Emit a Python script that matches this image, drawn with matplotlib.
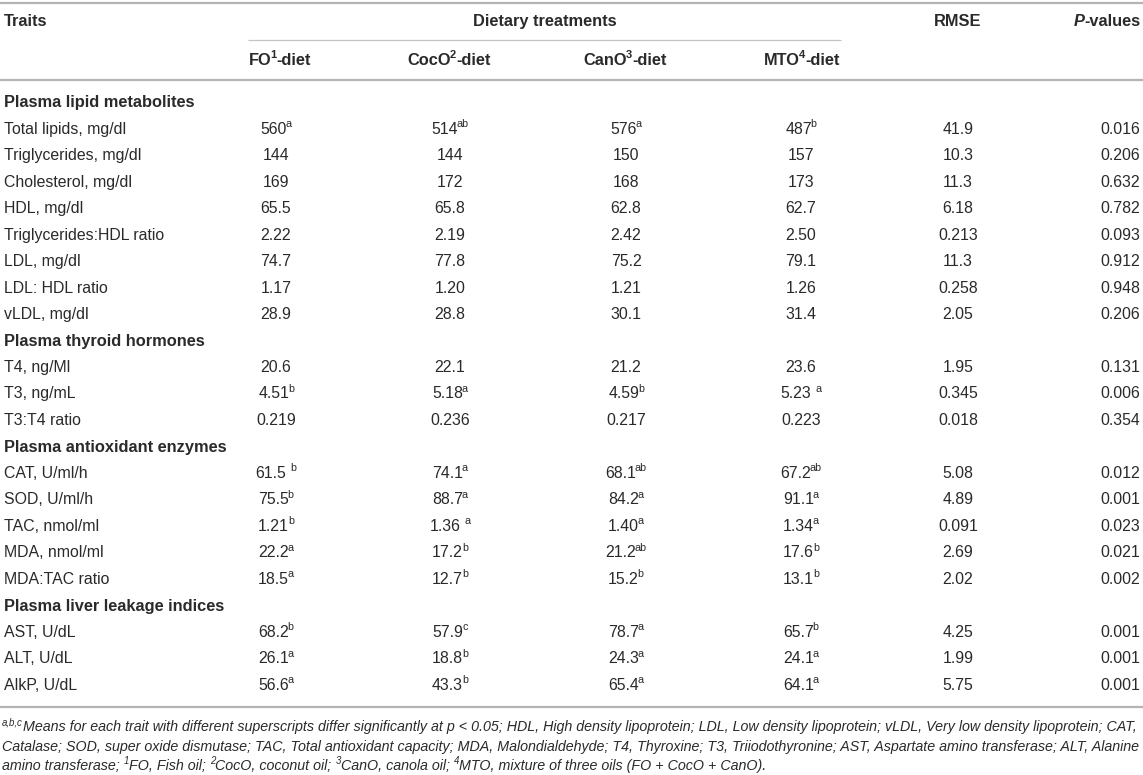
import matplotlib
matplotlib.use("Agg")
import matplotlib.pyplot as plt
from matplotlib.lines import Line2D

# table content
sections = ["Plasma lipid metabolites", "Plasma thyroid hormones",
            "Plasma antioxidant enzymes", "Plasma liver leakage indices"]
section_sizes = [8, 3, 5, 3]
traits = ["Total lipids, mg/dl", "Triglycerides, mg/dl", "Cholesterol, mg/dl", "HDL, mg/dl",
          "Triglycerides:HDL ratio", "LDL, mg/dl", "LDL: HDL ratio", "vLDL, mg/dl",
          "T4, ng/Ml", "T3, ng/mL", "T3:T4 ratio",
          "CAT, U/ml/h", "SOD, U/ml/h", "TAC, nmol/ml", "MDA, nmol/ml", "MDA:TAC ratio",
          "AST, U/dL", "ALT, U/dL", "AlkP, U/dL"]

# "^" marks a superscript
fo_diet = ["560^a", "144", "169", "65.5", "2.22", "74.7", "1.17", "28.9",
           "20.6", "4.51^b", "0.219",
           "61.5 ^b", "75.5^b", "1.21^b", "22.2^a", "18.5^a",
           "68.2^b", "26.1^a", "56.6^a"]
coco_diet = ["514^ab", "144", "172", "65.8", "2.19", "77.8", "1.20", "28.8",
             "22.1", "5.18^a", "0.236",
             "74.1^a", "88.7^a", "1.36 ^a", "17.2^b", "12.7^b",
             "57.9^c", "18.8^b", "43.3^b"]
cano_diet = ["576^a", "150", "168", "62.8", "2.42", "75.2", "1.21", "30.1",
             "21.2", "4.59^b", "0.217",
             "68.1^ab", "84.2^a", "1.40^a", "21.2^ab", "15.2^b",
             "78.7^a", "24.3^a", "65.4^a"]
mto_diet = ["487^b", "157", "173", "62.7", "2.50", "79.1", "1.26", "31.4",
            "23.6", "5.23 ^a", "0.223",
            "67.2^ab", "91.1^a", "1.34^a", "17.6^b", "13.1^b",
            "65.7^b", "24.1^a", "64.1^a"]
rmse = ["41.9", "10.3", "11.3", "6.18", "0.213", "11.3", "0.258", "2.05",
        "1.95", "0.345", "0.018",
        "5.08", "4.89", "0.091", "2.69", "2.02",
        "4.25", "1.99", "5.75"]
p_values = ["0.016", "0.206", "0.632", "0.782", "0.093", "0.912", "0.948", "0.206",
            "0.131", "0.006", "0.354",
            "0.012", "0.001", "0.023", "0.021", "0.002",
            "0.001", "0.001", "0.001"]

diet_headers = [[("FO", ""), ("1", "sup"), ("-diet", "")],
                [("CocO", ""), ("2", "sup"), ("-diet", "")],
                [("CanO", ""), ("3", "sup"), ("-diet", "")],
                [("MTO", ""), ("4", "sup"), ("-diet", "")]]

footnote = [
    [("a,b,c", "sup"), ("Means for each trait with different superscripts differ significantly at p < 0.05; HDL, High density lipoprotein; LDL, Low density lipoprotein; vLDL, Very low density lipoprotein; CAT,", "")],
    [("Catalase; SOD, super oxide dismutase; TAC, Total antioxidant capacity; MDA, Malondialdehyde; T4, Thyroxine; T3, Triiodothyronine; AST, Aspartate amino transferase; ALT, Alanine", "")],
    [("amino transferase; ", ""), ("1", "sup"), ("FO, Fish oil; ", ""), ("2", "sup"), ("CocO, coconut oil; ", ""),
     ("3", "sup"), ("CanO, canola oil; ", ""), ("4", "sup"), ("MTO, mixture of three oils (FO + CocO + CanO).", "")],
]

W, H = 1143, 775
FONT = "Liberation Sans"
TEXT = "#2a2a2a"
RULE = "#b4b4b4"
BODY = 11.4
HEAD = 11.8

fig = plt.figure(figsize=(W / 100, H / 100), dpi=100)
fig.patch.set_facecolor("white")
renderer = fig.canvas.get_renderer()


def fx(x):
    return x / W


def fy(y):
    return 1 - y / H


def text_width(s, size, weight="normal", style="normal"):
    if s == "":
        return 0.0
    t = fig.text(0, 0, s, fontsize=size, fontweight=weight, fontstyle=style, family=FONT)
    w = t.get_window_extent(renderer).width
    t.remove()
    return w


def space_width(size, weight, style):
    return text_width("a a", size, weight, style) - text_width("aa", size, weight, style)


def draw_runs(x, y, runs, ha="left", size=BODY, weight="normal", style="normal", color=TEXT):
    # y is the row centre in pixels from the top
    px = size * 100 / 72
    base = y + 0.36 * px
    items = []
    total = 0.0
    for i, (s, kind) in enumerate(runs):
        sz = size * 0.68 if kind == "sup" else size
        st = "italic" if kind == "it" else style
        core = s.strip(" ")
        lead = len(s) - len(s.lstrip(" "))
        trail = len(s) - len(s.rstrip(" "))
        sp = space_width(sz, weight, st)
        w_core = text_width(core, sz, weight, st)
        # superscripts sit tight against the text before them
        if kind == "sup" and i > 0 and lead == 0 and not runs[i - 1][0].endswith(" "):
            total -= 1.2
        items.append((total + lead * sp, core, sz, st, kind))
        total += lead * sp + w_core + trail * sp
    if ha == "center":
        x0 = x - total / 2
    elif ha == "right":
        x0 = x - total
    else:
        x0 = x
    for off, core, sz, st, kind in items:
        yy = base - 0.42 * px if kind == "sup" else base
        fig.text(fx(x0 + off), fy(yy), core, fontsize=sz, fontweight=weight,
                 fontstyle=st, family=FONT, color=color, va="baseline", ha="left")


def parse(v):
    if "^" in v:
        main, sup = v.split("^")
        return [(main, ""), (sup, "sup")]
    return [(v, "")]


def hline(x0, x1, y, lw, color=RULE):
    fig.add_artist(Line2D([fx(x0), fx(x1)], [fy(y), fy(y)], transform=fig.transFigure,
                          color=color, lw=lw, solid_capstyle="butt"))


# rules
hline(0, W, 3, 1.6)
hline(248, 841, 39.5, 0.9, "#c4c4c4")
hline(0, W, 80, 1.6)
hline(0, W, 707, 1.6)

# header
val_cx = [276, 450, 626, 801, 958, 1120]
head_cx = [280, 449, 625, 802, 958, 1107]
draw_runs(4, 20, [("Traits", "")], size=HEAD, weight="bold")
draw_runs(545, 20, [("Dietary treatments", "")], ha="center", size=HEAD, weight="bold")
draw_runs(head_cx[4], 20, [("RMSE", "")], ha="center", size=HEAD, weight="bold")
draw_runs(head_cx[5], 20, [("P", "it"), ("-values", "")], ha="center", size=HEAD, weight="bold")
for cx, runs in zip(head_cx[:4], diet_headers):
    draw_runs(cx, 59, runs, ha="center", size=HEAD, weight="bold")

# body
row0 = 101.5
pitch = 26.48
row = 0
k = 0
columns = [fo_diet, coco_diet, cano_diet, mto_diet, rmse, p_values]
for sec, n in zip(sections, section_sizes):
    draw_runs(4, row0 + pitch * row, [(sec, "")], size=HEAD, weight="bold")
    row += 1
    for _ in range(n):
        y = row0 + pitch * row
        draw_runs(4, y, [(traits[k], "")])
        for cx, col in zip(val_cx, columns):
            draw_runs(cx, y, parse(col[k]), ha="center")
        row += 1
        k += 1

# footnote, sized so the first line spans the table width
fn_size = 9.0
w1 = sum(text_width(s.strip(), fn_size * (0.68 if kd == "sup" else 1), style="italic")
         for s, kd in footnote[0])
fn_size = fn_size * 1138 / w1
for i, runs in enumerate(footnote):
    draw_runs(2, 726 + 19.5 * i, runs, size=fn_size, style="italic")

fig.savefig("out.png", dpi=100, facecolor="white")
